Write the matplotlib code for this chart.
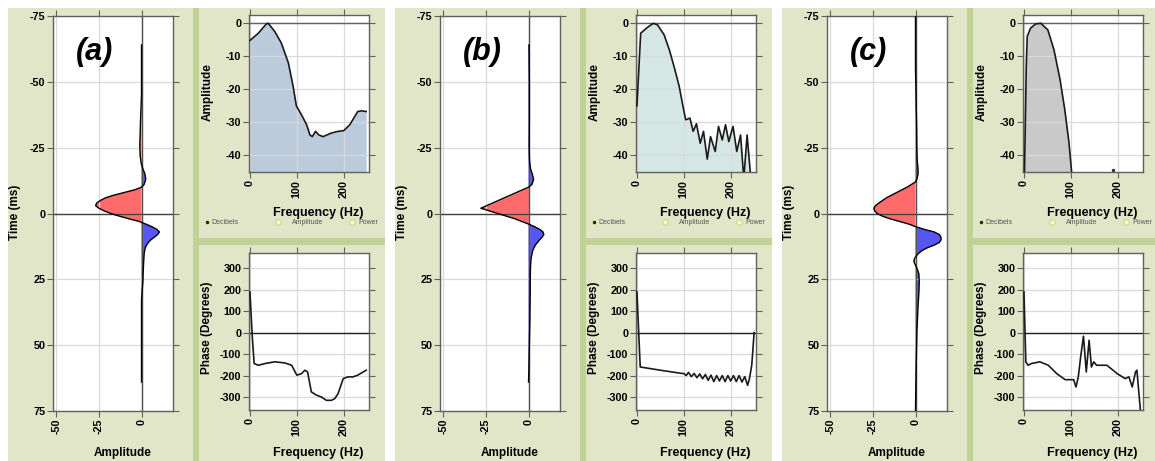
import numpy as np
from matplotlib import pyplot
from matplotlib.patches import Rectangle
from matplotlib.lines import Line2D

pyplot.rcParams['font.family'] = ['Liberation Sans', 'DejaVu Sans']
pyplot.rcParams['font.weight'] = 'bold'
pyplot.rcParams['axes.unicode_minus'] = False

W, H = 1155, 461

# region : data
panel_labels = ['(a)', '(b)', '(c)']

# wavelets: time (ms) vs amplitude
wave_a_t = [-64, -45, -40, -35, -30, -26, -22, -19, -17, -15, -13, -11, -10, -9, -8, -7, -6, -5, -4, -3,
            -2, -1, 0, 1, 2, 3, 4, 5, 6, 7, 8, 9, 10, 11, 12, 13, 15, 18, 22, 26, 30, 33, 64]
wave_a_amp = [0, 0, -0.3, -0.6, -0.8, -1.0, -0.8, -0.2, 0.8, 2.0, 2.5, 1.5, 0, -4, -10, -16, -21, -24, -26.3, -27,
              -25, -22, -18, -13, -7.5, -1.5, 2.5, 6, 9, 10.5, 9.5, 7.5, 5.5, 4, 3, 2.2, 1.6, 1.3, 1.0, 0.8, 0.3, 0, 0]

wave_b_t = [-64, -50, -35, -25, -20, -17, -15, -13, -11, -10, -8, -6, -4, -2, 0, 2, 4, 5, 6, 7,
            8, 9, 10, 12, 14, 17, 20, 25, 30, 40, 50, 60, 64]
wave_b_amp = [0.3, 0.5, 0.5, 0.4, 0.6, 1.2, 2.2, 3, 2, 0, -7, -14, -21, -28, -18, -8, 0, 3.5, 6.5, 8.5,
              9, 8, 6.5, 4, 2.5, 1.5, 1.2, 1.0, 1.0, 0.8, 0.5, 0.2, 0]

wave_c_t = [-75, -55, -45, -35, -25, -20, -17, -15, -13, -12, -10, -8, -6, -4, -3, -2, -1, 0, 1, 2,
            3, 4, 5, 6, 7, 8, 9, 10, 11, 12, 13, 14, 15, 16, 17, 18, 19, 21, 23, 26, 30, 35, 45, 55, 65, 75]
wave_c_amp = [0, 0, 0.3, 0.6, 0.8, 1.0, 1.5, 1.5, 0.8, 0, -5, -11, -17, -21.5, -23.5, -24.5, -24, -22.5, -19.5, -15,
              -9.5, -4, 0, 5, 11, 14, 15, 15, 14, 11, 7, 4, 2, 0.5, -0.5, -1, -0.5, 1, 2, 2.2, 2, 1.5, 0.8, 0.5, 0.2, 0]

# amplitude spectra (dB)
spec_a_f = [0, 18, 35, 39, 53, 67, 82, 92, 99, 110, 121, 128, 133, 140, 147, 156, 174, 188, 200, 213, 230, 238, 248]
spec_a_db = [-5.2, -3, -0.2, 0, -2.5, -6, -12, -19, -25, -27.7, -30.7, -33.8, -34.3, -32.7, -33.8, -34.3, -33.2,
             -32.7, -32.5, -30.7, -26.7, -26.5, -26.7]

spec_b_f = [0, 8, 23, 35, 44, 58, 69, 79, 90, 98, 104, 113, 120, 127, 135, 142, 150, 157, 167, 174,
            182, 189, 196, 205, 213, 221, 228, 235, 243, 248]
spec_b_db = [-25, -3, -1.2, 0, -0.5, -3.5, -8, -13, -19, -25, -29.2, -28.7, -32.7, -30.4, -36.3, -32.7, -41.1,
             -34.3, -38.8, -31.2, -35.3, -30.7, -35.8, -31.2, -38.8, -33.8, -47, -33.8, -47, -47]

spec_c_f = [1, 5, 7, 14, 25, 36, 51, 64, 77, 87, 96, 103]
spec_c_db = [-47, -13, -4, -1.5, -0.2, 0, -2, -8, -17, -26, -36, -47]
spec_c_dot_f = [189]
spec_c_dot_db = [-44.5]

# phase spectra (degrees)
phase_a_f = [0, 5, 9, 18, 32, 53, 74, 89, 100, 110, 117, 123, 131, 142, 152, 163, 174, 181, 188, 199,
             209, 220, 230, 248]
phase_a_deg = [189, -20, -144, -152, -144, -136, -141, -152, -198, -191, -175, -183, -276, -291, -299, -315,
               -315, -307, -284, -214, -206, -206, -198, -175]

phase_b_f = [0, 7, 50, 96, 100, 105, 110, 116, 122, 128, 134, 140, 146, 152, 158, 164, 170, 176, 182, 188,
             194, 200, 206, 212, 218, 224, 230, 236, 240, 245, 250]
phase_b_deg = [189, -160, -175, -190, -190, -200, -185, -205, -190, -210, -192, -215, -195, -222, -198, -228,
               -200, -225, -200, -228, -200, -225, -200, -228, -200, -230, -205, -245, -215, -150, 0]

phase_c_f = [0, 4, 9, 16, 34, 52, 70, 88, 106, 111, 116, 121, 127, 133, 139, 144, 149, 155, 177, 199,
             216, 224, 231, 238, 241, 250]
phase_c_deg = [189, -136, -152, -144, -136, -152, -191, -219, -219, -253, -206, -113, -17, -183, -36, -160,
               -136, -152, -152, -191, -214, -206, -253, -183, -175, -400]
# endregion

waves = [(wave_a_t, wave_a_amp), (wave_b_t, wave_b_amp), (wave_c_t, wave_c_amp)]
specs = [(spec_a_f, spec_a_db), (spec_b_f, spec_b_db), (spec_c_f, spec_c_db)]
phases = [(phase_a_f, phase_a_deg), (phase_b_f, phase_b_deg), (phase_c_f, phase_c_deg)]
spec_fill = ['#bccbdc', '#d5e7e5', '#c9c9c9']

bg_col = '#e2e6c9'
stripe_col = '#c2d296'
red_col = '#ff6a6a'
blue_col = '#5656f2'

fig = pyplot.figure(figsize=(W / 100, H / 100), dpi=100)
fig.patch.set_facecolor('white')


def box(x0, y0, x1, y1):
    return [x0 / W, 1 - y1 / H, (x1 - x0) / W, (y1 - y0) / H]


def rect(x0, y0, x1, y1, color):
    b = box(x0, y0, x1, y1)
    fig.add_artist(Rectangle((b[0], b[1]), b[2], b[3], transform=fig.transFigure,
                             facecolor=color, edgecolor='none', zorder=-5))


def style(ax):
    ax.set_facecolor('white')
    for s in ax.spines.values():
        s.set_color('#606060')
        s.set_linewidth(1)
    ax.tick_params(direction='out', length=4, width=0.8, color='#606060', top=True, right=True,
                   labelsize=7.8, pad=1.5)
    ax.tick_params(axis='x', labelrotation=90)
    ax.grid(color='#d9d9d9', lw=0.9)
    ax.set_axisbelow('line')


offsets = [0, 387, 774]

for i, o in enumerate(offsets):
    # backgrounds
    rect(8 + o, 8, 193 + o, 461, bg_col)
    rect(193 + o, 8, 199 + o, 461, stripe_col)
    rect(199 + o, 8, 385 + o, 461, bg_col)
    rect(199 + o, 238, 385 + o, 245, stripe_col)

    # wavelet
    t = np.array(waves[i][0], dtype=float)
    amp = np.array(waves[i][1], dtype=float)
    ax = fig.add_axes(box(53 + o, 16, 173 + o, 411))
    style(ax)
    ax.fill_betweenx(t, 0, amp, where=amp < 0, interpolate=True, color=red_col, lw=0)
    ax.fill_betweenx(t, 0, amp, where=amp > 0, interpolate=True, color=blue_col, lw=0)
    ax.axhline(0, color='#404040', lw=1, zorder=2)
    ax.axvline(0, color='#505050', lw=1, zorder=2)
    ax.plot(amp, t, color='black', lw=1, zorder=3)
    ax.set_xlim(-52, 18.5)
    ax.set_ylim(75, -75)
    ax.set_xticks([-50, -25, 0])
    ax.set_yticks([-75, -50, -25, 0, 25, 50, 75])
    ax.text(0.35, 0.91, panel_labels[i], transform=ax.transAxes, ha='center', va='center',
            fontsize=22, fontweight='bold', fontstyle='italic')
    fig.text((123 + o) / W, 1 - 453 / H, 'Amplitude', ha='center', va='center', fontsize=8.5)
    fig.text((15 + o) / W, 1 - 212 / H, 'Time (ms)', ha='center', va='center', fontsize=8.5, rotation=90)

    # amplitude spectrum
    f = np.array(specs[i][0], dtype=float)
    db = np.array(specs[i][1], dtype=float)
    ax = fig.add_axes(box(249 + o, 15, 369 + o, 172))
    style(ax)
    ax.fill_between(f, db, -100, color=spec_fill[i], lw=0)
    ax.plot(f, db, color='#1a1a1a', lw=1.2, zorder=3)
    if i == 2:
        ax.plot(spec_c_dot_f, spec_c_dot_db, 'o', color='#333333', ms=1.5)
    ax.axhline(0, color='#606060', lw=1, zorder=2)
    ax.set_xlim(-2, 254)
    ax.set_ylim(-45, 2.5)
    ax.set_xticks([0, 100, 200])
    ax.set_yticks([0, -10, -20, -30, -40])
    fig.text((318 + o) / W, 1 - 213 / H, 'Frequency (Hz)', ha='center', va='center', fontsize=9)
    fig.text((208 + o) / W, 1 - 92 / H, 'Amplitude', ha='center', va='center', fontsize=8.5, rotation=90)

    # radio buttons row
    ry = 1 - 222 / H
    fig.add_artist(Line2D([(207 + o) / W], [ry], marker='o', ms=3.5, color='#222222',
                          markeredgecolor='#e8e8a0', transform=fig.transFigure))
    fig.add_artist(Line2D([(278 + o) / W], [ry], marker='o', ms=4, color='#fafad2',
                          markeredgecolor='#d8d890', transform=fig.transFigure))
    fig.add_artist(Line2D([(352 + o) / W], [ry], marker='o', ms=4, color='#fafad2',
                          markeredgecolor='#d8d890', transform=fig.transFigure))
    fig.text((211 + o) / W, ry, 'Decibels', ha='left', va='center', fontsize=5,
             fontweight='normal', color='#555555')
    fig.text((292 + o) / W, ry, 'Amplitude', ha='left', va='center', fontsize=5,
             fontweight='normal', color='#555555')
    fig.text((358 + o) / W, ry, 'Power', ha='left', va='center', fontsize=5,
             fontweight='normal', color='#555555')

    # phase spectrum
    pf = np.array(phases[i][0], dtype=float)
    pd = np.array(phases[i][1], dtype=float)
    ax = fig.add_axes(box(249 + o, 253, 369 + o, 410))
    style(ax)
    ax.axhline(0, color='#202020', lw=1, zorder=2)
    ax.plot(pf, pd, color='#1a1a1a', lw=1.2, zorder=3)
    ax.set_xlim(-2, 254)
    ax.set_ylim(-360, 370)
    ax.set_xticks([0, 100, 200])
    ax.set_yticks([300, 200, 100, 0, -100, -200, -300])
    fig.text((318 + o) / W, 1 - 453 / H, 'Frequency (Hz)', ha='center', va='center', fontsize=9)
    fig.text((207 + o) / W, 1 - 328 / H, 'Phase (Degrees)', ha='center', va='center', fontsize=8.5, rotation=90)

pyplot.savefig('out.png', dpi=100, facecolor=fig.get_facecolor())
